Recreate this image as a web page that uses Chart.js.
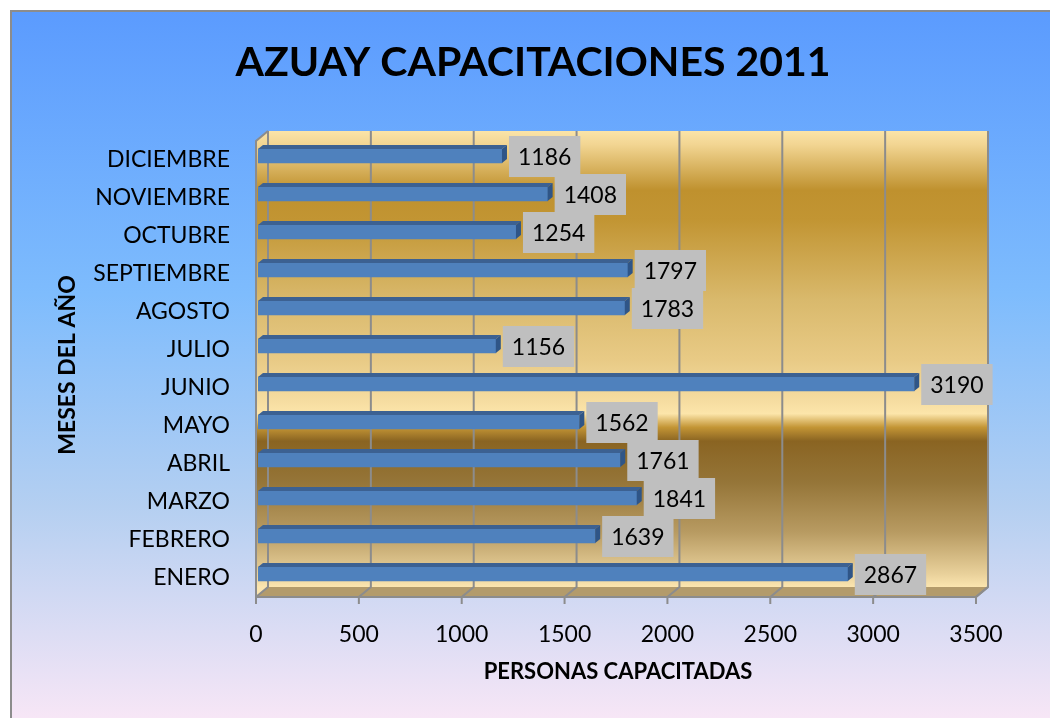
<!DOCTYPE html>
<html>
<head>
<meta charset="utf-8">
<title>Azuay capacitaciones 2011</title>
<script src="https://cdn.jsdelivr.net/npm/chart.js"></script>
<style>
  html, body { margin: 0; padding: 0; background: #fff; }
</style>
</head>
<body>
<canvas id="capChart" width="1050" height="718"></canvas>
<script>
// datos
const meses = ['ENERO', 'FEBRERO', 'MARZO', 'ABRIL', 'MAYO', 'JUNIO', 'JULIO',
    'AGOSTO', 'SEPTIEMBRE', 'OCTUBRE', 'NOVIEMBRE', 'DICIEMBRE'];
const capacitados = [2867, 1639, 1841, 1761, 1562, 3190, 1156, 1783, 1797, 1254, 1408, 1186];
const ticksX = [0, 500, 1000, 1500, 2000, 2500, 3000, 3500];
const titulo = 'AZUAY CAPACITACIONES 2011';
const tituloX = 'PERSONAS CAPACITADAS';
const tituloY = 'MESES DEL AÑO';

// fondo, pared dorada en 3D, caras de las barras y etiquetas
const depthPlugin = {
    id: 'depth3d',
    beforeDraw(chart) {
        let ctx = chart.ctx;
        ctx.save();
        ctx.fillStyle = '#fff';
        ctx.fillRect(0, 0, chart.width, chart.height);
        let g = ctx.createLinearGradient(0, 11, 0, chart.height);
        g.addColorStop(0, '#5B9BFE');
        g.addColorStop(0.4, '#7EBCFD');
        g.addColorStop(0.7, '#B4CFF1');
        g.addColorStop(1, '#F7E6F6');
        ctx.fillStyle = g;
        ctx.fillRect(11, 11, chart.width, chart.height);
        ctx.strokeStyle = '#8C8C8C';
        ctx.lineWidth = 2;
        ctx.beginPath();
        ctx.moveTo(11, chart.height);
        ctx.lineTo(11, 11);
        ctx.lineTo(chart.width, 11);
        ctx.stroke();

        ctx.fillStyle = '#000';
        ctx.font = 'bold 41px Lato';
        ctx.textAlign = 'center';
        ctx.textBaseline = 'middle';
        ctx.fillText(titulo, 533, 63);
        ctx.restore();
    },
    beforeDatasetsDraw(chart) {
        let { ctx, chartArea: a, scales: { x } } = chart;
        let f = { l: a.left - 2, r: a.right - 2, t: a.top + 4, b: a.bottom + 4 };
        let bk = { l: a.left + 10, r: a.right + 10, t: a.top - 6, b: a.bottom - 6 };
        ctx.save();

        let g = ctx.createLinearGradient(0, bk.t, 0, bk.b);
        g.addColorStop(0, '#FAE4A8');
        g.addColorStop(0.03, '#F2D592');
        g.addColorStop(0.13, '#BF912E');
        g.addColorStop(0.195, '#C29533');
        g.addColorStop(0.37, '#D9B96C');
        g.addColorStop(0.5, '#E8CA85');
        g.addColorStop(0.59, '#F5DCA0');
        g.addColorStop(0.62, '#FCE5AA');
        g.addColorStop(0.65, '#C39535');
        g.addColorStop(0.68, '#8A6422');
        g.addColorStop(0.77, '#957538');
        g.addColorStop(0.88, '#B89B62');
        g.addColorStop(0.97, '#E8D09A');
        g.addColorStop(1, '#FBE5AF');

        // pared del fondo y pared izquierda
        ctx.fillStyle = g;
        ctx.fillRect(bk.l, bk.t, bk.r - bk.l, bk.b - bk.t);
        ctx.beginPath();
        ctx.moveTo(f.l, f.t);
        ctx.lineTo(bk.l, bk.t);
        ctx.lineTo(bk.l, bk.b);
        ctx.lineTo(f.l, f.b);
        ctx.closePath();
        ctx.fill();

        // piso
        ctx.fillStyle = '#B39B6B';
        ctx.beginPath();
        ctx.moveTo(f.l, f.b);
        ctx.lineTo(f.r, f.b);
        ctx.lineTo(bk.r, bk.b);
        ctx.lineTo(bk.l, bk.b);
        ctx.closePath();
        ctx.fill();

        // lineas de division
        ctx.strokeStyle = '#8C8C8C';
        ctx.lineWidth = 2;
        ticksX.forEach(v => {
            let px = x.getPixelForValue(v);
            ctx.beginPath();
            ctx.moveTo(px + 10, bk.t);
            ctx.lineTo(px + 10, bk.b);
            ctx.lineTo(px - 2, f.b);
            ctx.lineTo(px - 2, f.b + 7);
            ctx.stroke();
        });
        ctx.beginPath();
        ctx.moveTo(f.l, f.b + 7);
        ctx.lineTo(f.l, f.t);
        ctx.lineTo(bk.l, bk.t);
        ctx.moveTo(f.l, f.b);
        ctx.lineTo(f.r, f.b);
        ctx.lineTo(bk.r, bk.b);
        ctx.stroke();
        ctx.restore();
    },
    afterDatasetsDraw(chart) {
        let ctx = chart.ctx;
        let meta = chart.getDatasetMeta(0);
        ctx.save();
        meta.data.forEach(bar => {
            let { x: xe, y: yc, base, height } = bar.getProps(['x', 'y', 'base', 'height'], true);
            let top = yc - height / 2, bot = yc + height / 2;
            ctx.fillStyle = '#3C6192';
            ctx.beginPath();
            ctx.moveTo(base, top);
            ctx.lineTo(xe, top);
            ctx.lineTo(xe + 5, top - 4);
            ctx.lineTo(base + 5, top - 4);
            ctx.closePath();
            ctx.fill();
            ctx.fillStyle = '#2F5587';
            ctx.beginPath();
            ctx.moveTo(xe, top);
            ctx.lineTo(xe + 5, top - 4);
            ctx.lineTo(xe + 5, bot - 4);
            ctx.lineTo(xe, bot);
            ctx.closePath();
            ctx.fill();
        });

        ctx.font = '23px Lato';
        ctx.textBaseline = 'middle';
        ctx.textAlign = 'left';
        meta.data.forEach((bar, i) => {
            let { x: xe, y: yc } = bar.getProps(['x', 'y'], true);
            let txt = String(capacitados[i]);
            let w = ctx.measureText(txt).width + 18;
            ctx.fillStyle = '#BFBFBF';
            ctx.fillRect(xe + 7, yc - 20, w, 41);
            ctx.fillStyle = '#000';
            ctx.fillText(txt, xe + 16, yc + 1.5);
        });
        ctx.restore();
    }
};

let ctx = document.getElementById('capChart').getContext('2d');
let capChart = new Chart(ctx, {
    type: 'bar',
    data: {
        labels: meses,
        datasets: [{
            label: tituloX,
            data: capacitados,
            backgroundColor: '#4F81BD',
            borderWidth: 0,
            barThickness: 14
        }]
    },
    options: {
        indexAxis: 'y',
        responsive: false,
        animation: false,
        layout: { padding: { left: 54, right: 72, top: 137, bottom: 33 } },
        plugins: {
            legend: { display: false },
            tooltip: { enabled: false }
        },
        scales: {
            x: {
                min: 0,
                max: 3500,
                afterBuildTicks: scale => { scale.ticks = ticksX.map(v => ({ value: v })); },
                afterFit: scale => { scale.height = 92; },
                grid: { display: false },
                border: { display: false },
                ticks: {
                    color: '#000',
                    font: { family: 'Lato', size: 23 },
                    padding: 20,
                    labelOffset: -2,
                    maxRotation: 0,
                    callback: v => String(v)
                },
                title: {
                    display: true,
                    text: tituloX,
                    color: '#000',
                    font: { family: 'Lato', size: 22, weight: 'bold' },
                    padding: { top: 12, bottom: 0 }
                }
            },
            y: {
                reverse: true,
                afterFit: scale => { scale.width = 204; },
                grid: { display: false },
                border: { display: false },
                ticks: { color: '#000', font: { family: 'Lato', size: 23 }, padding: 20, labelOffset: 4 },
                title: {
                    display: true,
                    text: tituloY,
                    color: '#000',
                    font: { family: 'Lato', size: 23, weight: 'bold' },
                    padding: { top: 0, bottom: 0 }
                }
            }
        }
    },
    plugins: [depthPlugin]
});
</script>
</body>
</html>
